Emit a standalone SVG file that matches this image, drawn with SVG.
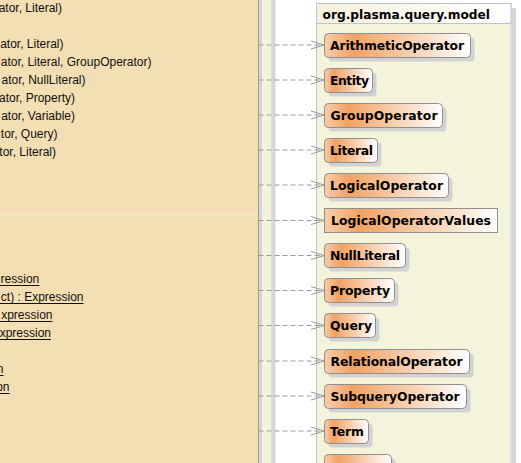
<svg xmlns="http://www.w3.org/2000/svg" width="521" height="463" viewBox="0 0 521 463">
<style>
.op{font-family:"Liberation Sans",Arial,sans-serif;font-size:12px;fill:#111;text-anchor:end}
.ul{stroke:#111;stroke-width:1}
.cls{fill:url(#cg);stroke:#8f8f8f;stroke-width:1}
.sh{fill:#d2d2d2}
.lbl{font-family:"DejaVu Sans",Verdana,sans-serif;font-weight:bold;font-size:12.4px;fill:#000}
.hdr{font-family:"DejaVu Sans",Verdana,sans-serif;font-weight:bold;font-size:12.2px;fill:#000}
.dep{stroke:#9a9a9a;stroke-width:1;stroke-dasharray:5,3;fill:none}
.ah{stroke:#9a9a9a;stroke-width:1;fill:none}
</style>
<defs>
<linearGradient id="cg" x1="0" y1="0" x2="1" y2="0">
<stop offset="0" stop-color="#f9cdaa"/>
<stop offset="0.2" stop-color="#f1a263"/>
<stop offset="1" stop-color="#ffffff"/>
</linearGradient>
<linearGradient id="hg" x1="0" y1="0" x2="1" y2="0">
<stop offset="0" stop-color="#f6f1dc"/>
<stop offset="1" stop-color="#ffffff"/>
</linearGradient>
</defs>
<rect x="0" y="0" width="521" height="463" fill="#ffffff"/>
<g id="left-class">
<rect x="-5" y="-5" width="263.5" height="475" fill="#f4deb3" stroke="#9c9c9c" stroke-width="1"/>
<rect x="259" y="0" width="3.5" height="463" fill="#d6d6d6"/>
<rect x="262.5" y="0" width="8.7" height="463" fill="#f3f3dc"/>
<rect x="271.2" y="0" width="4.3" height="463" fill="#d6d6d6"/>
<line x1="0" y1="214.5" x2="258" y2="214.5" stroke="#ebe8e2" stroke-width="1.5"/>
<text class="op" x="62" y="11.5">ator, Literal)</text>
<text class="op" x="63.5" y="47.5">ator, Literal)</text>
<text class="op" x="151.5" y="65.5">ator, Literal, GroupOperator)</text>
<text class="op" x="85.5" y="83.5">ator, NullLiteral)</text>
<text class="op" x="75" y="101.5">ator, Property)</text>
<text class="op" x="75" y="119.5">ator, Variable)</text>
<text class="op" x="57.5" y="137.5">tor, Query)</text>
<text class="op" x="56" y="155.5">tor, Literal)</text>
<text class="op" x="39.3" y="283">ression</text>
<line class="ul" x1="0" y1="285.5" x2="39.5" y2="285.5"/>
<text class="op" x="83.5" y="301">ct) : Expression</text>
<line class="ul" x1="0" y1="303.5" x2="83.5" y2="303.5"/>
<text class="op" x="52.5" y="319">xpression</text>
<line class="ul" x1="0" y1="321.5" x2="52.5" y2="321.5"/>
<text class="op" x="51" y="337">xpression</text>
<line class="ul" x1="0" y1="339.5" x2="51" y2="339.5"/>
<text class="op" x="3.5" y="373">n</text>
<line class="ul" x1="0" y1="375.5" x2="3.5" y2="375.5"/>
<text class="op" x="9.5" y="391">on</text>
<line class="ul" x1="0" y1="393.5" x2="9.5" y2="393.5"/>
</g>
<g id="package">
<rect x="512" y="8" width="4" height="460" fill="#d4d4d4"/>
<rect x="316.5" y="3.5" width="194.5" height="470" fill="#f4f4dc" stroke="#bcc3d6" stroke-width="1"/>
<rect x="316.5" y="3.5" width="194.5" height="20" fill="url(#hg)" stroke="#bcc3d6" stroke-width="1"/>
<text class="hdr" x="322.5" y="18.5" textLength="167.5" lengthAdjust="spacing">org.plasma.query.model</text>
</g>
<g id="ArithmeticOperator"><rect class="sh" x="328.5" y="37.5" width="146" height="24" rx="4"/><rect class="cls" x="324.5" y="33.5" width="146" height="24" rx="4"/><text class="lbl" x="330" y="50" textLength="134" lengthAdjust="spacing">ArithmeticOperator</text></g>
<g id="Entity"><rect class="sh" x="328.5" y="72.5" width="48" height="24" rx="4"/><rect class="cls" x="324.5" y="68.5" width="48" height="24" rx="4"/><text class="lbl" x="330" y="85" textLength="39" lengthAdjust="spacing">Entity</text></g>
<g id="GroupOperator"><rect class="sh" x="328.5" y="107.5" width="118" height="24" rx="4"/><rect class="cls" x="324.5" y="103.5" width="118" height="24" rx="4"/><text class="lbl" x="330.5" y="120" textLength="107" lengthAdjust="spacing">GroupOperator</text></g>
<g id="Literal"><rect class="sh" x="328.5" y="142.5" width="53" height="24" rx="4"/><rect class="cls" x="324.5" y="138.5" width="53" height="24" rx="4"/><text class="lbl" x="330" y="155" textLength="43" lengthAdjust="spacing">Literal</text></g>
<g id="LogicalOperator"><rect class="sh" x="328.5" y="177.5" width="124" height="24" rx="4"/><rect class="cls" x="324.5" y="173.5" width="124" height="24" rx="4"/><text class="lbl" x="330" y="190" textLength="113" lengthAdjust="spacing">LogicalOperator</text></g>
<g id="LogicalOperatorValues"><rect class="cls" x="324.5" y="208.5" width="173" height="24"/><text class="lbl" x="331" y="225" textLength="160" lengthAdjust="spacing">LogicalOperatorValues</text></g>
<g id="NullLiteral"><rect class="sh" x="328.5" y="247.5" width="81" height="24" rx="4"/><rect class="cls" x="324.5" y="243.5" width="81" height="24" rx="4"/><text class="lbl" x="330" y="260" textLength="70" lengthAdjust="spacing">NullLiteral</text></g>
<g id="Property"><rect class="sh" x="328.5" y="282.5" width="70" height="24" rx="4"/><rect class="cls" x="324.5" y="278.5" width="70" height="24" rx="4"/><text class="lbl" x="330" y="295" textLength="60" lengthAdjust="spacing">Property</text></g>
<g id="Query"><rect class="sh" x="328.5" y="317.5" width="51" height="24" rx="4"/><rect class="cls" x="324.5" y="313.5" width="51" height="24" rx="4"/><text class="lbl" x="330" y="330" textLength="42" lengthAdjust="spacing">Query</text></g>
<g id="RelationalOperator"><rect class="sh" x="328.5" y="353.5" width="145" height="24" rx="4"/><rect class="cls" x="324.5" y="349.5" width="145" height="24" rx="4"/><text class="lbl" x="330.5" y="366" textLength="132" lengthAdjust="spacing">RelationalOperator</text></g>
<g id="SubqueryOperator"><rect class="sh" x="328.5" y="388.5" width="142" height="24" rx="4"/><rect class="cls" x="324.5" y="384.5" width="142" height="24" rx="4"/><text class="lbl" x="330.5" y="401" textLength="129" lengthAdjust="spacing">SubqueryOperator</text></g>
<g id="Term"><rect class="sh" x="328.5" y="423.5" width="44" height="24" rx="4"/><rect class="cls" x="324.5" y="419.5" width="44" height="24" rx="4"/><text class="lbl" x="330" y="436" textLength="34" lengthAdjust="spacing">Term</text></g>
<g id="Variable"><rect class="sh" x="328.5" y="458.5" width="67" height="24" rx="4"/><rect class="cls" x="324.5" y="454.5" width="67" height="24" rx="4"/></g>
<g id="connectors">
<path class="dep" d="M258.5 45H324M258.5 80H324M258.5 115H324M258.5 150H324M258.5 185H324M258.5 220.5H324M258.5 255.5H324M258.5 290.5H324M258.5 325.5H324M258.5 361H324M258.5 396H324M258.5 431H324"/>
<path class="ah" d="M311 41L324 45L311 49M311 76L324 80L311 84M311 111L324 115L311 119M311 146L324 150L311 154M311 181L324 185L311 189M311 216.5L324 220.5L311 224.5M311 251.5L324 255.5L311 259.5M311 286.5L324 290.5L311 294.5M311 321.5L324 325.5L311 329.5M311 357L324 361L311 365M311 392L324 396L311 400M311 427L324 431L311 435"/>
</g>
</svg>
